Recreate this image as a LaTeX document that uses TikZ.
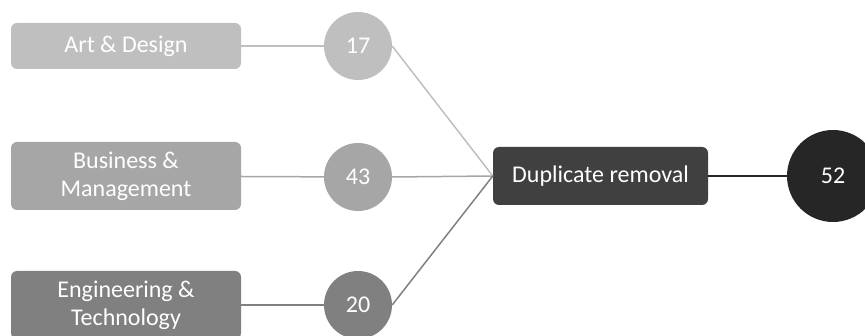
\documentclass[tikz,border=0pt]{standalone}
\usepackage{fontspec}
\setmainfont{Carlito}
\definecolor{cA}{HTML}{BFBFBF}
\definecolor{cB}{HTML}{A6A6A6}
\definecolor{cC}{HTML}{808080}
\definecolor{cD}{HTML}{404040}
\definecolor{cE}{HTML}{262626}
\begin{document}
\begin{tikzpicture}[x=1pt,y=-1pt,
  catbox/.style={rounded corners=6pt, minimum width=230pt, inner sep=0pt, text=white, align=center,
    font=\fontsize{24}{28}\selectfont},
  numcirc/.style={circle, minimum size=68pt, inner sep=0pt, text=white, font=\fontsize{24}{28}\selectfont},
  conn/.style={line width=1.5pt}]
\useasboundingbox (0,0) rectangle (865,336);
\node[catbox, fill=cA, minimum height=46pt] (art) at (126,46) {Art \& Design};
\node[catbox, fill=cB, minimum height=68pt] (bus) at (126,176) {Business \&\\Management};
\node[catbox, fill=cC, minimum height=68pt] (eng) at (126,305) {Engineering \&\\Technology};
\node[numcirc, fill=cA] (n17) at (358,46) {17};
\node[numcirc, fill=cB] (n43) at (358,177) {43};
\node[numcirc, fill=cC] (n20) at (358,305) {20};
\node[catbox, fill=cD, minimum width=215pt, minimum height=58pt] (dup) at (600.5,176) {Duplicate removal};
\node[numcirc, fill=cE, minimum size=92pt] (n52) at (833,176) {52};
\draw[conn, cA] (art) -- (n17);
\draw[conn, cB] (bus) -- (n43);
\draw[conn, cC] (eng) -- (n20);
\draw[conn, cA] (n17.east) -- (dup.west);
\draw[conn, cB] (n43.east) -- (dup.west);
\draw[conn, cC] (n20.east) -- (dup.west);
\draw[conn, cE] (dup) -- (n52);
\end{tikzpicture}
\end{document}
